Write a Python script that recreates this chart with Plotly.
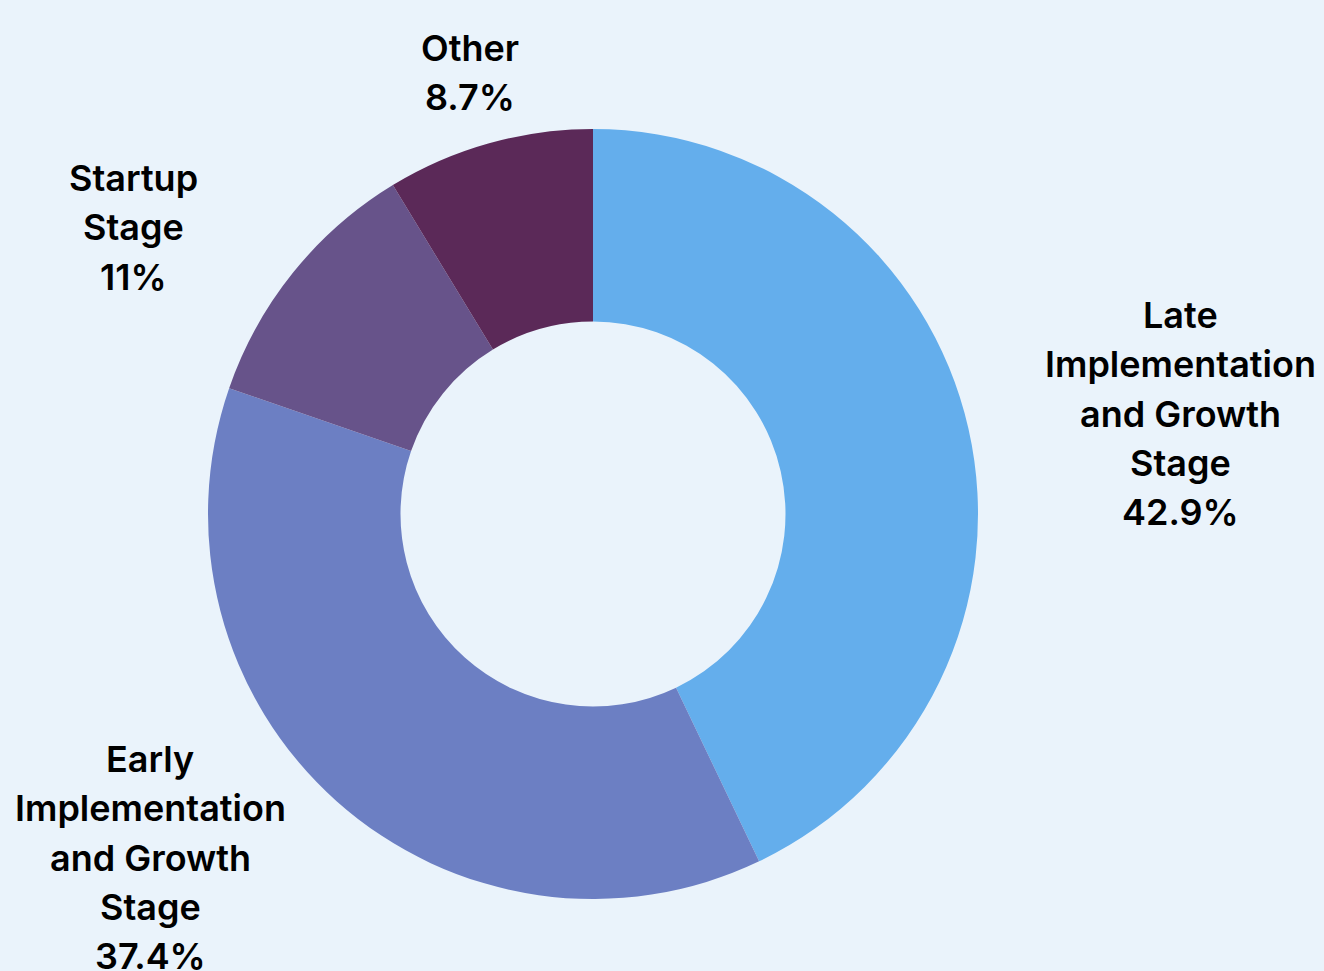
import plotly.graph_objects as go

# Share of organisations by stage
stages = ["Late<br>Implementation<br>and Growth<br>Stage",
          "Early<br>Implementation<br>and Growth<br>Stage",
          "Startup<br>Stage",
          "Other"]
shares = [42.9, 37.4, 11, 8.7]
colors = ["#64AEEC", "#6C7FC3", "#67538A", "#5B2958"]

# label anchor (x centre, first line centre) in pixels, per stage
label_pos = [(1180, 315), (150, 759), (133, 178), (470, 48)]

W, H = 1324, 971
BG = "#EAF3FB"
LINE = 49.3

fig = go.Figure(go.Pie(
    labels=[s.replace("<br>", " ") for s in stages],
    values=shares,
    hole=0.5,
    sort=False,
    direction="clockwise",
    rotation=0,
    marker=dict(colors=colors, line=dict(width=0)),
    textinfo="none",
    hoverinfo="label+percent",
    showlegend=False,
    domain=dict(x=[(593 - 385) / W, (593 + 385) / W],
                y=[1 - 899 / H, 1 - 129 / H]),
))

annotations = []
for name, val, (px, py) in zip(stages, shares, label_pos):
    lines = name.split("<br>") + [f"{val:g}%"]
    for i, line in enumerate(lines):
        annotations.append(dict(
            x=px / W, y=1 - (py + i * LINE) / H,
            xref="paper", yref="paper",
            xanchor="center", yanchor="middle",
            text=line, showarrow=False,
            font=dict(family="Inter", size=36, color="#000000", weight=600),
        ))

fig.update_layout(
    width=W, height=H,
    margin=dict(l=0, r=0, t=0, b=0),
    paper_bgcolor=BG, plot_bgcolor=BG,
    annotations=annotations,
)

fig.write_html("out.html")
